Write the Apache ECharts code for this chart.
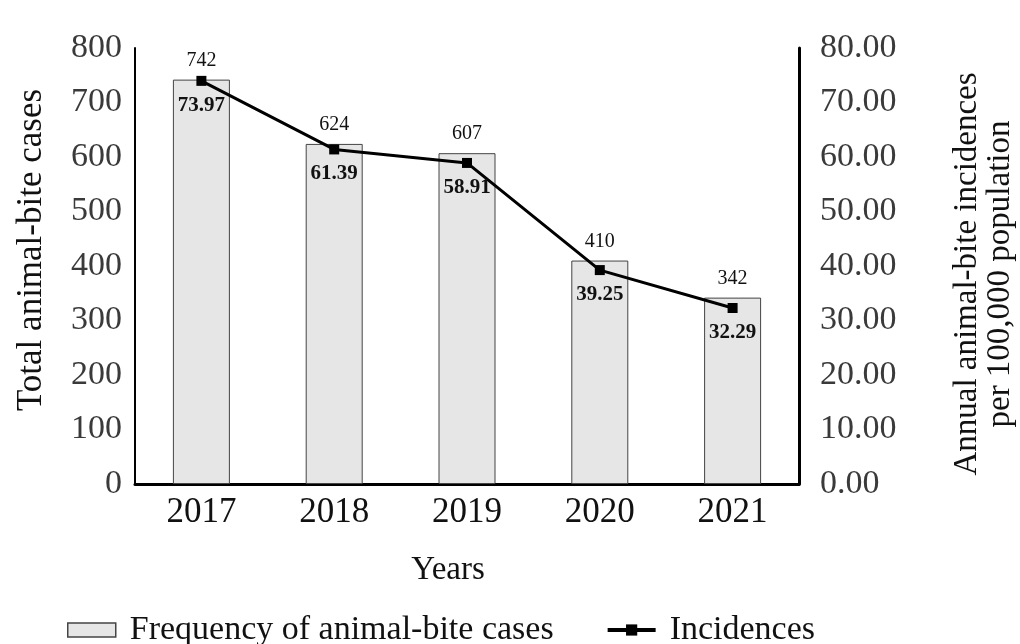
<!DOCTYPE html>
<html><head><meta charset="utf-8">
<script src="https://cdn.jsdelivr.net/npm/echarts@6/dist/echarts.min.js"></script>
<style>html,body{margin:0;padding:0;background:#fff}#c{width:1020px;height:644px}</style>
</head><body><div id="c"></div>
<script>
const years = ['2017','2018','2019','2020','2021'];
const cases = [742, 624, 607, 410, 342];
const incidences = [73.97, 61.39, 58.91, 39.25, 32.29];
const leftTicks = [0,100,200,300,400,500,600,700,800];
const rightTicks = [0,10,20,30,40,50,60,70,80];

const F = 'Liberation Serif, Times New Roman, serif';
const chart = echarts.init(document.getElementById('c'));
chart.setOption({
  animation: false,
  backgroundColor: '#fff',
  grid: {left: 135, right: 221, top: 48, bottom: 160, outerBoundsMode: 'none', containLabel: false},
  legend: {
    top: 608, left: 62, itemGap: 52, itemWidth: 48, itemHeight: 14,
    textStyle: {fontFamily: F, fontSize: 34, color: '#111', padding: [0, 0, 0, 9]},
    data: [
      {name: 'Frequency of animal-bite cases', icon: 'rect', itemStyle: {color: '#e6e6e6', borderColor: '#444', borderWidth: 1.5}},
      {name: 'Incidences', lineStyle: {width: 4, color: '#000'}, itemStyle: {color: '#000'}}
    ]
  },
  xAxis: {
    type: 'category', data: years,
    name: 'Years', nameLocation: 'middle', nameGap: 70,
    nameTextStyle: {fontFamily: F, fontSize: 33, color: '#111', padding: [0, 38, 0, 0]},
    axisLine: {lineStyle: {color: '#000', width: 3}},
    axisTick: {show: false},
    axisLabel: {fontFamily: F, fontSize: 35, color: '#111', margin: 11}
  },
  yAxis: [
    {
      type: 'value', min: leftTicks[0], max: leftTicks[leftTicks.length-1], interval: 100,
      name: 'Total animal-bite cases', nameLocation: 'middle', nameRotate: 90, nameGap: 86,
      nameTextStyle: {fontFamily: F, fontSize: 35, color: '#111', padding: [0, 0, 0, 32]},
      axisLine: {show: true, lineStyle: {color: '#000', width: 2}},
      axisTick: {show: false}, splitLine: {show: false},
      axisLabel: {fontFamily: F, fontSize: 34, color: '#3a3a3a', margin: 13, padding: [0, 0, 8, 0]}
    },
    {
      type: 'value', min: rightTicks[0], max: rightTicks[rightTicks.length-1], interval: 10,
      name: 'Annual animal-bite incidences\nper 100,000 population', nameLocation: 'middle', nameRotate: 90, nameGap: 152,
      nameTextStyle: {fontFamily: F, fontSize: 33, color: '#111', lineHeight: 33, padding: [0, 16, 0, 0]},
      axisLine: {show: true, lineStyle: {color: '#000', width: 3}},
      axisTick: {show: false}, splitLine: {show: false},
      axisLabel: {fontFamily: F, fontSize: 34, color: '#3a3a3a', margin: 21, padding: [0, 0, 6, 0], formatter: v => v.toFixed(2)}
    }
  ],
  series: [
    {
      name: 'Frequency of animal-bite cases', type: 'bar', yAxisIndex: 0, data: cases,
      barWidth: 57,
      itemStyle: {color: '#e6e6e6', borderColor: '#444', borderWidth: 1},
      label: {show: true, position: 'top', distance: 9, fontFamily: F, fontSize: 20, color: '#111'}
    },
    {
      name: 'Incidences', type: 'line', yAxisIndex: 1, data: incidences,
      symbol: 'rect', symbolSize: 10,
      lineStyle: {color: '#000', width: 3}, itemStyle: {color: '#000'},
      label: {show: true, position: 'bottom', distance: 9, fontFamily: F, fontSize: 21, fontWeight: 'bold', color: '#111', formatter: p => p.value.toFixed(2)},
      z: 5
    }
  ]
});
</script></body></html>
